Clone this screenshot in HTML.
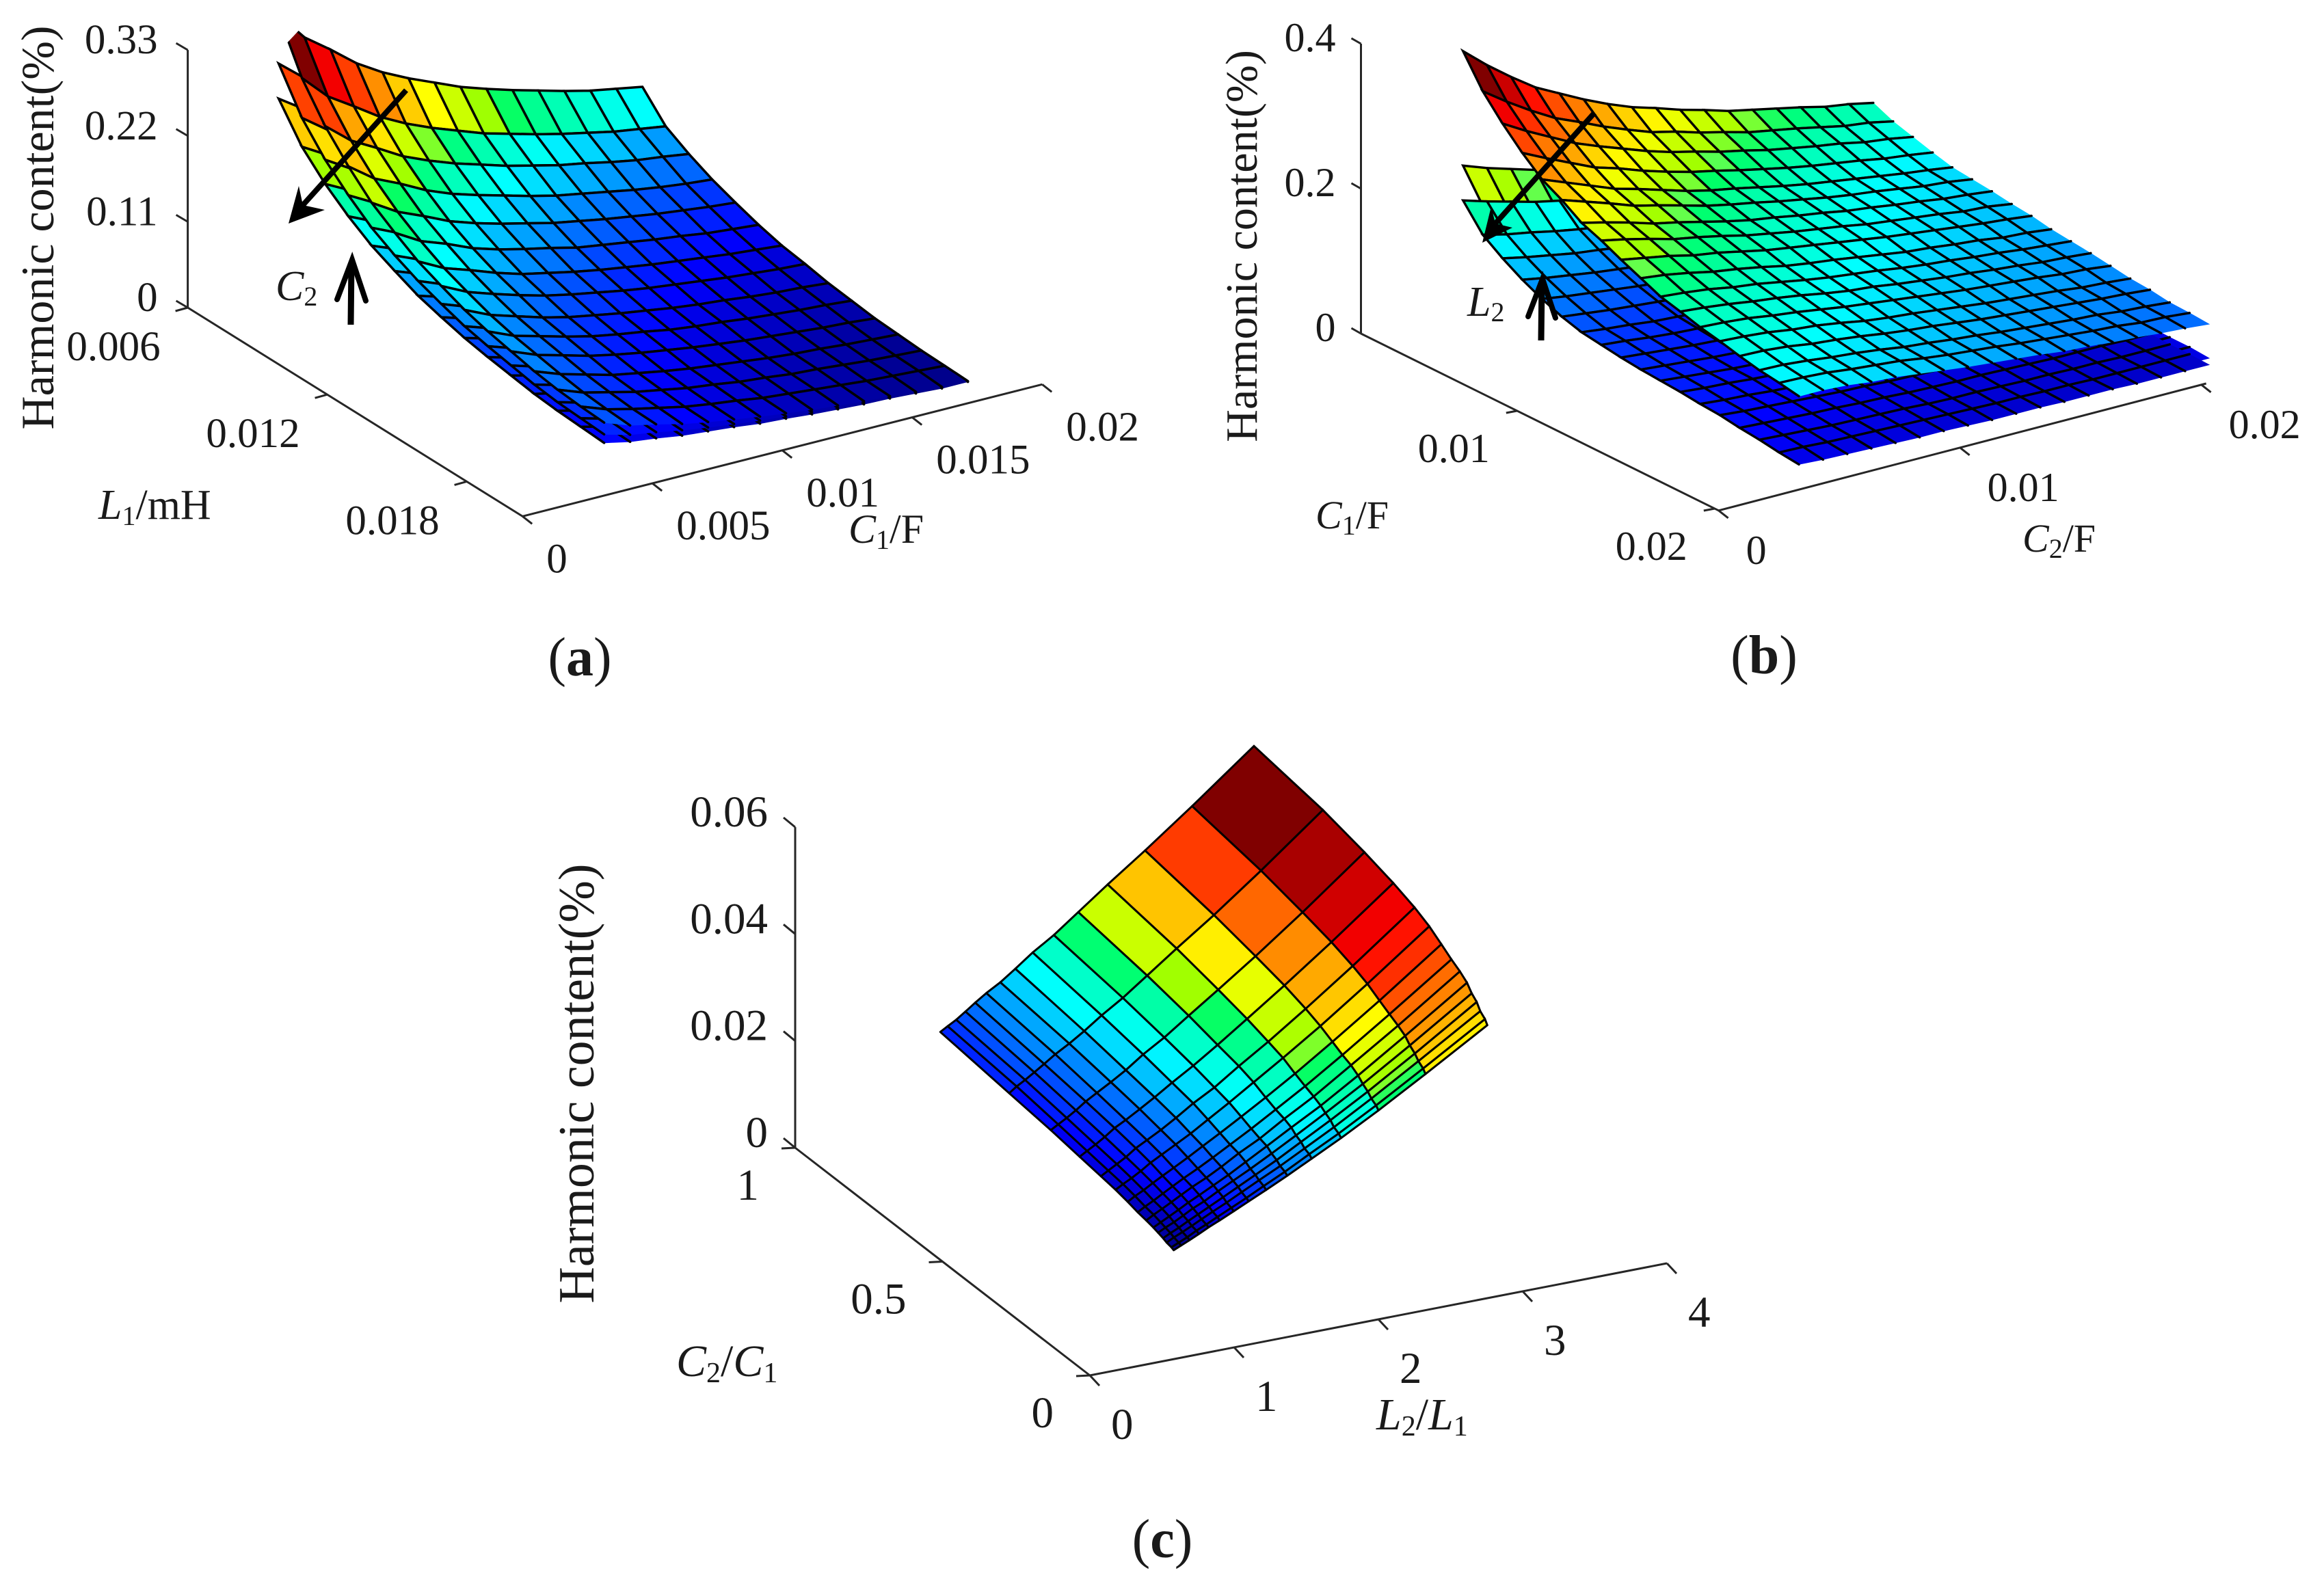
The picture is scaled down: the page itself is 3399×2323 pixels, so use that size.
<!DOCTYPE html>
<html lang="en">
<head>
<meta charset="utf-8">
<title>Harmonic content surfaces</title>
<style>
html,body{margin:0;padding:0;background:#fff;}
svg{display:block;}
text{font-family:"Liberation Serif",serif;fill:#1a1a1a;}
.axlab{font-size:60px;}
</style>
</head>
<body>
<svg id="figure" xmlns="http://www.w3.org/2000/svg" width="3399" height="2323" viewBox="0 0 3399 2323">
<rect x="0" y="0" width="3399" height="2323" fill="#ffffff"/>
<defs>
<clipPath id="clipTopA"><polygon points="380,105 480,-1 1500,-1 1500,800 380,800"/></clipPath>
</defs>

<g id="panelA"></g>
<g id="panelB"></g>
<g id="panelC"></g>

<!-- panel a annotations -->
<text transform="translate(78,333) rotate(-90)" text-anchor="middle" font-size="68">Harmonic content(%)</text>
<text x="144" y="759" font-size="62"><tspan font-style="italic">L</tspan><tspan dy="9" font-size="40">1</tspan><tspan dy="-9">/mH</tspan></text>
<text x="1241" y="794" font-size="60"><tspan font-style="italic">C</tspan><tspan dy="9" font-size="40">1</tspan><tspan dy="-9">/F</tspan></text>
<text x="403" y="439" font-size="62"><tspan font-style="italic">C</tspan><tspan dy="8" font-size="40">2</tspan></text>
<g>
  <line x1="594" y1="132" x2="443" y2="300" stroke="#000" stroke-width="8"/>
  <polygon points="422,327 437,272 443,300 475,307" fill="#000"/>
</g>
<g fill="none" stroke="#000" stroke-linecap="round">
  <line x1="513" y1="475" x2="514" y2="385" stroke-width="9" stroke-linecap="butt"/>
  <polyline points="493,438 515,380 535,440" stroke-width="8"/>
</g>
<text x="848" y="988" text-anchor="middle" font-size="80">(<tspan font-weight="bold">a</tspan>)</text>

<!-- panel b annotations -->
<text transform="translate(1838,360) rotate(-90)" text-anchor="middle" font-size="66">Harmonic content(%)</text>
<text x="1924" y="773" font-size="58"><tspan font-style="italic">C</tspan><tspan dy="9" font-size="40">1</tspan><tspan dy="-9">/F</tspan></text>
<text x="2958" y="807" font-size="58"><tspan font-style="italic">C</tspan><tspan dy="9" font-size="40">2</tspan><tspan dy="-9">/F</tspan></text>
<text x="2146" y="462" font-size="62"><tspan font-style="italic">L</tspan><tspan dy="8" font-size="40">2</tspan></text>
<g>
  <line x1="2332" y1="165" x2="2187" y2="327" stroke="#000" stroke-width="8"/>
  <polygon points="2168,355 2181,302 2187,327 2212,333" fill="#000"/>
</g>
<g fill="none" stroke="#000" stroke-linecap="round">
  <line x1="2254" y1="498" x2="2255" y2="415" stroke-width="9" stroke-linecap="butt"/>
  <polyline points="2235,463 2256,408 2275,465" stroke-width="8"/>
</g>
<text x="2580" y="985" text-anchor="middle" font-size="80">(<tspan font-weight="bold">b</tspan>)</text>

<!-- panel c annotations -->
<text transform="translate(868,1585) rotate(-90)" text-anchor="middle" font-size="74">Harmonic content(%)</text>
<text x="989" y="2013" font-size="66"><tspan font-style="italic">C</tspan><tspan dy="9" font-size="42">2</tspan><tspan dy="-9">/</tspan><tspan font-style="italic">C</tspan><tspan dy="9" font-size="42">1</tspan></text>
<text x="2013" y="2091" font-size="66"><tspan font-style="italic">L</tspan><tspan dy="9" font-size="42">2</tspan><tspan dy="-9">/</tspan><tspan font-style="italic">L</tspan><tspan dy="9" font-size="42">1</tspan></text>
<text x="1700" y="2278" text-anchor="middle" font-size="80">(<tspan font-weight="bold">c</tspan>)</text>
</svg>

<script>
// ---------- Panel (a): axis ticks and grid values ----------
const aZTicks = [0, 110, 220, 330];
const aZTickLabels = ["0", "0.11", "0.22", "0.33"];
const aL1Ticks = [0.006, 0.012, 0.018];
const aL1TickLabels = ["0.006", "0.012", "0.018"];
const aC1Ticks = [0, 0.005, 0.01, 0.015, 0.02];
const aC1TickLabels = ["0", "0.005", "0.01", "0.015", "0.02"];
const aC1Grid = [0.0035,0.0045,0.0055,0.0065,0.0075,0.0085,0.0095,0.0105,0.0115,0.0125,0.0135,0.0145,0.0155,0.0165,0.0175];
const aL1Grid = [0.006,0.007,0.008,0.009,0.010,0.011,0.012,0.013,0.014,0.015,0.016,0.017,0.018,0.019,0.020];
// harmonic content in units of 0.001 %, one row per L1 value
const aSurfaceHigh = [
[345,308,284,258,238,222,208,194,183,173,164,155,147,141,135],
[283,251,230,208,191,177,165,153,144,135,127,120,113,108,103],
[240,213,195,176,162,150,140,130,122,114,108,101,95,91,86],
[207,183,168,151,138,128,119,110,102,96,90,84,79,75,72],
[179,159,145,130,119,110,102,94,88,82,77,72,68,64,61],
[159,140,128,114,104,96,89,81,76,71,66,62,57,54,51],
[141,124,113,101,91,84,77,71,66,61,57,53,49,46,43],
[128,112,101,91,82,75,69,63,58,54,50,46,43,40,38],
[116,101,91,81,73,67,61,56,51,47,44,40,37,35,32],
[107,93,84,75,67,61,56,50,46,43,39,36,33,31,28],
[100,87,78,69,62,56,51,46,42,38,35,32,29,27,24],
[93,81,72,63,57,51,46,42,38,34,31,29,26,24,22],
[88,76,68,60,54,48,44,39,36,32,30,27,24,22,20],
[85,73,65,58,51,46,42,37,34,31,28,25,23,21,19],
[83,71,64,56,50,45,40,36,32,29,26,24,21,19,18]];
const aSurfaceMid = [
[283,256,239,219,205,193,183,172,164,157,150,143,137,133,128],
[232,208,193,177,164,154,145,135,129,122,116,111,106,102,98],
[197,177,164,150,139,131,123,115,109,103,99,93,89,86,82],
[170,152,141,128,119,111,105,97,91,87,82,78,74,71,68],
[147,132,122,111,102,96,90,83,79,74,70,67,64,60,58],
[130,116,108,97,89,84,78,72,68,64,60,57,53,51,48],
[116,103,95,86,78,73,68,63,59,55,52,49,46,43,41],
[105,93,85,77,71,65,61,56,52,49,46,43,40,38,36],
[95,84,76,69,63,58,54,50,46,43,40,37,35,33,30],
[88,77,71,64,58,53,49,44,41,39,36,33,31,29,27],
[82,72,66,59,53,49,45,41,38,34,32,30,27,25,23],
[76,67,60,54,49,44,40,37,34,31,28,27,24,23,21],
[72,63,57,51,46,42,39,35,32,29,27,25,22,21,19],
[70,61,55,49,44,40,37,33,30,28,26,23,22,20,18],
[68,59,54,48,43,39,35,32,29,26,24,22,20,18,17]];
const aSurfaceLow = [
[238,216,204,188,179,171,162,155,150,144,139,135,131,128,126],
[195,176,166,152,143,136,129,122,118,112,108,104,101,98,96],
[166,149,140,128,122,116,109,104,100,95,92,88,85,83,80],
[143,128,121,110,104,99,93,88,84,80,77,73,70,68,67],
[124,111,104,95,89,85,80,75,72,68,65,63,61,58,57],
[110,98,92,83,78,74,69,65,62,59,56,54,51,49,47],
[97,87,81,74,68,65,60,57,54,51,48,46,44,42,40],
[88,78,73,66,62,58,54,50,48,45,43,40,38,36,35],
[80,71,66,59,55,52,48,45,42,39,37,35,33,32,30],
[74,65,60,55,50,47,44,40,38,36,33,31,29,28,26],
[69,61,56,50,47,43,40,37,34,32,30,28,26,25,22],
[64,57,52,46,43,39,36,34,31,28,26,25,23,22,20],
[61,53,49,44,41,37,34,31,30,27,26,23,21,20,19],
[59,51,47,42,38,35,33,30,28,26,24,22,20,19,18],
[57,50,46,41,38,35,31,29,26,24,22,21,19,17,17]];

// ---------- Panel (b): axis ticks and grid values ----------
const bZTicks = [0, 200, 400];
const bZTickLabels = ["0", "0.2", "0.4"];
const bC1Ticks = [0.01, 0.02];
const bC1TickLabels = ["0.01", "0.02"];
const bC2Ticks = [0, 0.01, 0.02];
const bC2TickLabels = ["0", "0.01", "0.02"];
const bC2Grid = [0.003,0.004,0.005,0.006,0.007,0.008,0.009,0.010,0.011,0.012,0.013,0.014,0.015,0.016,0.017,0.018,0.019,0.020];
const bC1Grid = [0.0036,0.0046,0.0056,0.0066,0.0076,0.0086,0.0096,0.0106,0.0116,0.0126,0.0136,0.0146,0.0156,0.0166,0.0176,0.0186,0.0196,0.0206];
const bSurfaceHigh = [
[384,356,331,308,291,274,259,246,236,225,216,206,199,192,185,177,172,165],
[342,319,298,279,265,250,237,225,217,207,199,190,184,178,171,164,160,153],
[311,292,275,258,245,233,221,211,203,194,187,179,173,167,162,155,151,145],
[284,268,253,238,228,216,206,197,190,182,175,168,162,157,152,146,142,137],
[261,248,235,222,213,203,193,185,179,172,165,159,154,149,144,139,135,130],
[246,235,224,212,204,195,186,179,173,166,160,154,149,145,140,135,132,127],
[228,220,211,201,194,186,178,171,166,160,155,149,145,140,136,131,128,124],
[217,210,202,193,187,180,172,166,160,155,150,144,140,136,132,127,125,120],
[204,198,192,184,179,172,165,160,155,150,145,140,136,132,128,124,121,117],
[192,188,182,175,170,164,157,152,148,143,138,133,130,126,123,118,116,112],
[180,177,173,167,163,157,151,146,142,138,133,129,126,122,119,115,112,109],
[173,170,166,161,157,152,146,141,138,133,129,125,122,118,115,111,109,106],
[165,163,160,155,151,146,141,137,133,129,125,121,118,115,112,108,106,102],
[159,157,154,149,146,141,135,131,128,124,120,116,113,110,107,103,101,98],
[152,151,148,143,140,136,131,127,124,120,116,113,110,107,104,101,99,96],
[146,145,142,138,135,131,126,123,119,116,112,109,106,103,101,97,95,92],
[142,141,139,135,132,129,124,120,117,114,110,107,104,101,99,95,94,91],
[137,137,135,131,129,125,121,117,114,111,108,104,102,99,97,94,92,89]];
const bSurfaceMid = [
[226,214,204,194,185,177,170,163,157,152,147,142,138,134,130,127,124,120],
[184,174,166,157,150,143,137,131,127,123,119,114,111,109,106,104,102,100],
[160,151,143,136,131,124,119,114,110,106,104,100,97,96,93,91,90,88],
[140,132,125,119,114,109,105,100,96,93,91,88,86,83,82,81,79,78],
[123,116,111,106,101,97,93,90,87,84,82,79,78,76,74,73,72,70],
[109,104,99,95,91,87,83,81,77,76,73,72,69,68,67,65,64,64],
[99,93,90,84,82,78,76,73,70,69,67,65,64,63,61,60,60,59],
[93,90,84,81,78,74,72,69,67,65,63,61,60,59,58,56,56,55],
[88,84,81,77,74,70,68,65,64,63,60,59,58,56,55,55,54,52],
[84,81,77,73,70,68,65,63,60,59,58,56,55,54,52,52,51,51],
[82,78,74,70,68,67,63,61,59,58,56,55,54,52,51,51,50,50],
[79,76,73,69,67,64,61,59,58,56,55,54,52,51,50,50,49,49],
[76,72,69,65,63,61,59,58,55,54,52,51,50,50,49,49,47,47],
[73,69,67,64,61,59,58,55,54,52,51,50,49,49,47,46,46,46],
[68,65,63,60,59,56,55,52,51,50,50,49,47,46,46,46,45,45],
[64,61,59,56,55,54,52,50,49,49,47,46,46,45,45,44,44,44],
[59,58,55,54,52,51,50,49,47,46,46,45,45,44,44,44,44,44],
[55,52,51,50,49,47,47,46,45,45,45,44,44,44,42,42,42,42]];
const bSurfaceLow = [
[178,168,159,150,143,136,130,124,119,115,111,107,104,101,98,96,94,92],
[144,136,130,123,117,112,107,102,99,96,93,89,87,85,83,81,80,78],
[125,118,112,106,102,97,93,89,86,83,81,78,76,75,73,71,70,69],
[109,103,98,93,89,85,82,78,75,73,71,69,67,65,64,63,62,61],
[96,91,87,83,79,76,73,70,68,66,64,62,61,59,58,57,56,55],
[85,81,77,74,71,68,65,63,60,59,57,56,54,53,52,51,50,50],
[77,73,70,66,64,61,59,57,55,54,52,51,50,49,48,47,47,46],
[73,70,66,63,61,58,56,54,52,51,49,48,47,46,45,44,44,43],
[69,66,63,60,58,55,53,51,50,49,47,46,45,44,43,43,42,41],
[66,63,60,57,55,53,51,49,47,46,45,44,43,42,41,41,40,40],
[64,61,58,55,53,52,49,48,46,45,44,43,42,41,40,40,39,39],
[62,59,57,54,52,50,48,46,45,44,43,42,41,40,39,39,38,38],
[59,56,54,51,49,48,46,45,43,42,41,40,39,39,38,38,37,37],
[57,54,52,50,48,46,45,43,42,41,40,39,38,38,37,36,36,36],
[53,51,49,47,46,44,43,41,40,39,39,38,37,36,36,36,35,35],
[50,48,46,44,43,42,41,39,38,38,37,36,36,35,35,34,34,34],
[46,45,43,42,41,40,39,38,37,36,36,35,35,34,34,34,34,34],
[43,41,40,39,38,37,37,36,35,35,35,34,34,34,33,33,33,33]];

// ---------- Panel (c): axis ticks and grid values ----------
const cZTicks = [0, 20, 40, 60];
const cZTickLabels = ["0", "0.02", "0.04", "0.06"];
const cCRatioTicks = [1, 0.5, 0];
const cCRatioTickLabels = ["1", "0.5", "0"];
const cLRatioTicks = [0, 1, 2, 3, 4];
const cLRatioTickLabels = ["0", "1", "2", "3", "4"];
const cCRatioGrid = [1,0.766,0.625,0.527,0.455,0.405,0.364,0.330,0.301,0.277,0.261,0.244,0.232,0.216,0.208];
const cLRatioGrid = [3.18,2.751,2.425,2.166,1.962,1.793,1.646,1.526,1.422,1.325,1.248,1.18,1.116,1.057,1.006];
const cSurface = [
[58.5,56.5,54.6,53.0,51.5,50.1,48.5,47.1,46.1,45.0,43.7,42.8,41.6,40.8,40.0],
[49.5,47.4,45.6,44.2,42.8,41.6,40.2,39.1,38.2,37.3,36.2,35.4,34.5,33.8,33.1],
[42.9,40.8,39.1,37.8,36.5,35.4,34.2,33.2,32.5,31.6,30.7,30.0,29.2,28.6,28.0],
[37.9,35.9,34.2,32.9,31.7,30.8,29.6,28.7,28.0,27.3,26.6,26.0,25.2,24.7,24.2],
[33.8,31.9,30.4,29.1,28.2,27.3,26.2,25.4,24.9,24.3,23.5,23.0,22.3,21.9,21.4],
[30.4,28.6,27.2,26.1,25.1,24.4,23.5,22.7,22.1,21.7,21.0,20.5,19.9,19.5,19.1],
[27.9,26.1,24.8,23.7,22.9,22.0,21.2,20.5,20.1,19.5,18.9,18.5,18.0,17.6,17.2],
[25.5,23.8,22.5,21.6,20.8,20.0,19.4,18.7,18.2,17.7,17.3,16.9,16.4,16.0,15.7],
[23.5,22.0,20.8,19.9,19.1,18.5,17.8,17.2,16.7,16.3,15.9,15.5,15.0,14.7,14.4],
[22.0,20.5,19.3,18.4,17.7,17.1,16.4,15.9,15.5,15.0,14.5,14.2,13.8,13.5,13.2],
[20.6,19.1,18.1,17.3,16.6,16.0,15.3,14.8,14.4,14.0,13.6,13.2,12.8,12.5,12.3],
[19.3,17.9,16.8,16.0,15.3,14.8,14.3,13.8,13.4,13.0,12.6,12.3,11.9,11.7,11.4],
[18.1,16.8,15.7,14.9,14.3,13.8,13.3,12.8,12.5,12.1,11.7,11.4,11.1,10.8,10.6],
[17.2,15.9,14.8,14.0,13.4,13.0,12.5,12.0,11.7,11.3,11.0,10.7,10.4,10.1,9.9],
[16.4,14.9,14.0,13.2,12.6,12.2,11.7,11.2,10.9,10.6,10.3,10.0,9.7,9.5,9.3]];

// ---------- Projections (orthographic view of each 3-D axes box) ----------
function projectA(c1, l1, z) {
  return [274.6 + 38000 * c1 + 34000 * (l1 - 0.006),
          450 - 9650 * c1 + 21200 * (l1 - 0.006) - 1.142 * z];
}
function projectB(c2, c1, z) {
  return [1990.5 + 35300 * c2 + 28900 * (c1 - 0.0021),
          488 - 9200 * c2 + 14300 * (c1 - 0.0021) - 1.06 * z];
}
function projectC(cRatio, lRatio, z) {
  return [1163 + 211 * lRatio + 431 * (1 - cRatio),
          1679 - 41 * lRatio + 333 * (1 - cRatio) - 7.817 * z];
}

const SVG_NS = "http://www.w3.org/2000/svg";

// jet colormap; the green band follows the hues seen in the reference figure
function jetColor(t) {
  t = Math.max(0, Math.min(1, t));
  if (t > 0.375 && t < 0.625) {
    const band = [
      [0.375, 0, 255, 255], [0.44, 0, 255, 191], [0.49, 0, 255, 128], [0.505, 0, 255, 102],
      [0.522, 96, 255, 80], [0.54, 160, 255, 0], [0.58, 200, 255, 0], [0.625, 255, 255, 0]
    ];
    for (let k = 0; k < band.length - 1; k++) {
      if (t <= band[k + 1][0]) {
        const f = (t - band[k][0]) / (band[k + 1][0] - band[k][0]);
        const mix = function (n) { return Math.round(band[k][n] + f * (band[k + 1][n] - band[k][n])); };
        return "rgb(" + mix(1) + "," + mix(2) + "," + mix(3) + ")";
      }
    }
  }
  const clamp = function (v) { return Math.max(0, Math.min(1, v)); };
  const r = clamp(1.5 - Math.abs(4 * t - 3));
  const g = clamp(1.5 - Math.abs(4 * t - 2));
  const b = clamp(1.5 - Math.abs(4 * t - 1));
  return "rgb(" + Math.round(r * 255) + "," + Math.round(g * 255) + "," + Math.round(b * 255) + ")";
}

function matrixRange(list) {
  let lo = Infinity, hi = -Infinity;
  list.forEach(function (m) {
    m.forEach(function (row) {
      row.forEach(function (v) { lo = Math.min(lo, v); hi = Math.max(hi, v); });
    });
  });
  return [lo, hi];
}

function fmt(p) { return p[0].toFixed(1) + "," + p[1].toFixed(1); }

function drawSurface(parent, name, zMatrix, colGrid, rowGrid, project, range, opts) {
  const group = document.createElementNS(SVG_NS, "g");
  
  
  if (opts.clip) group.setAttribute("clip-path", opts.clip);
  parent.appendChild(group);
  const floor = opts.colorFloor || 0;
  const nr = rowGrid.length, nc = colGrid.length;
  for (let j = 0; j < nr - 1; j++) {
    for (let i = 0; i < nc - 1; i++) {
      const a = project(colGrid[i], rowGrid[j], zMatrix[j][i]);
      const b = project(colGrid[i + 1], rowGrid[j], zMatrix[j][i + 1]);
      const c = project(colGrid[i + 1], rowGrid[j + 1], zMatrix[j + 1][i + 1]);
      const d = project(colGrid[i], rowGrid[j + 1], zMatrix[j + 1][i]);
      const t = floor + (1 - floor) * (zMatrix[j][i] - range[0]) / (range[1] - range[0]);
      const col = jetColor(t);
      const cell = document.createElementNS(SVG_NS, "polygon");
      
      
      cell.setAttribute("points", fmt(a) + " " + fmt(b) + " " + fmt(c) + " " + fmt(d));
      cell.setAttribute("fill", col);
      cell.setAttribute("stroke", col);
      cell.setAttribute("stroke-width", "0.7");
      group.appendChild(cell);
      let path = "M" + fmt(d) + "L" + fmt(a) + "L" + fmt(b);
      if (i < nc - 2 || opts.rightEdge) path += "M" + fmt(b) + "L" + fmt(c);
      if (j < nr - 2 || opts.bottomEdge) path += "M" + fmt(d) + "L" + fmt(c);
      const edge = document.createElementNS(SVG_NS, "path");
      
      
      edge.setAttribute("d", path);
      edge.setAttribute("fill", "none");
      edge.setAttribute("stroke", "#000");
      edge.setAttribute("stroke-width", opts.lineWidth);
      edge.setAttribute("stroke-linecap", "round");
      group.appendChild(edge);
    }
  }
}

function drawAxis(parent, name, values, labels, pointFn, endA, endB, tick, label, fontSize) {
  const group = document.createElementNS(SVG_NS, "g");
  
  
  parent.appendChild(group);
  const p0 = pointFn(endA), p1 = pointFn(endB);
  const axisLine = document.createElementNS(SVG_NS, "line");
  
  
  axisLine.setAttribute("x1", p0[0]);
  axisLine.setAttribute("y1", p0[1]);
  axisLine.setAttribute("x2", p1[0]);
  axisLine.setAttribute("y2", p1[1]);
  axisLine.setAttribute("stroke", "#262626");
  axisLine.setAttribute("stroke-width", "3");
  group.appendChild(axisLine);
  values.forEach(function (v, k) {
    const p = pointFn(v);
    const tk = document.createElementNS(SVG_NS, "line");
    
    
    tk.setAttribute("x1", p[0]);
    tk.setAttribute("y1", p[1]);
    tk.setAttribute("x2", p[0] + tick[0]);
    tk.setAttribute("y2", p[1] + tick[1]);
    tk.setAttribute("stroke", "#262626");
    tk.setAttribute("stroke-width", "3");
    group.appendChild(tk);
    const tx = document.createElementNS(SVG_NS, "text");
    
    
    tx.setAttribute("x", p[0] + label[0]);
    tx.setAttribute("y", p[1] + label[1]);
    tx.setAttribute("text-anchor", label[2]);
    tx.setAttribute("font-size", fontSize);
    tx.textContent = labels[k];
    group.appendChild(tx);
  });
}

// ---------- Panel (a) ----------
const panelA = document.getElementById("panelA");
const rangeA = matrixRange([aSurfaceHigh, aSurfaceMid, aSurfaceLow]);
drawAxis(panelA, "panel-a-z-axis", aZTicks, aZTickLabels, function (z) { return projectA(0, 0.006, z); }, 0, 330, [-17, -10], [-44, 5, "end"], 61);
drawAxis(panelA, "panel-a-l1-axis", aL1Ticks, aL1TickLabels, function (l) { return projectA(0, l, 0); }, 0.006, 0.0204, [-18, 5], [-40, 77, "end"], 61);
drawAxis(panelA, "panel-a-c1-axis", aC1Ticks, aC1TickLabels, function (c) { return projectA(c, 0.0204, 0); }, 0, 0.02, [14, 11], [35, 82, "start"], 61);
drawSurface(panelA, "panel-a-surface-low", aSurfaceLow, aC1Grid, aL1Grid, projectA, rangeA, { lineWidth: 3.5, rightEdge: true, bottomEdge: false });
drawSurface(panelA, "panel-a-surface-mid", aSurfaceMid, aC1Grid, aL1Grid, projectA, rangeA, { lineWidth: 3.5, rightEdge: true, bottomEdge: false });
drawSurface(panelA, "panel-a-surface-high", aSurfaceHigh, aC1Grid, aL1Grid, projectA, rangeA, { lineWidth: 3.5, rightEdge: true, bottomEdge: false, clip: "url(#clipTopA)" });

// ---------- Panel (b) ----------
const panelB = document.getElementById("panelB");
const rangeB = matrixRange([bSurfaceHigh, bSurfaceMid, bSurfaceLow]);
drawAxis(panelB, "panel-b-z-axis", bZTicks, bZTickLabels, function (z) { return projectB(0, 0.0021, z); }, 0, 400, [-14, -8], [-37, 11, "end"], 60);
drawAxis(panelB, "panel-b-c1-axis", bC1Ticks, bC1TickLabels, function (c) { return projectB(0, c, 0); }, 0.0021, 0.0202, [-16, 3], [-40, 75, "end"], 60);
drawAxis(panelB, "panel-b-c2-axis", bC2Ticks, bC2TickLabels, function (c) { return projectB(c, 0.0202, 0); }, 0, 0.0202, [14, 11], [40, 78, "start"], 60);
drawSurface(panelB, "panel-b-surface-mid", bSurfaceMid, bC2Grid, bC1Grid, projectB, rangeB, { lineWidth: 3.4, rightEdge: false, bottomEdge: false, colorFloor: 0.07 });
drawSurface(panelB, "panel-b-surface-low", bSurfaceLow, bC2Grid, bC1Grid, projectB, rangeB, { lineWidth: 3.4, rightEdge: false, bottomEdge: false, colorFloor: 0.07 });
drawSurface(panelB, "panel-b-surface-high", bSurfaceHigh, bC2Grid, bC1Grid, projectB, rangeB, { lineWidth: 3.4, rightEdge: false, bottomEdge: false, colorFloor: 0.07 });

// ---------- Panel (c) ----------
const panelC = document.getElementById("panelC");
const rangeC = matrixRange([cSurface]);
drawAxis(panelC, "panel-c-z-axis", cZTicks, cZTickLabels, function (z) { return projectC(1, 0, z); }, 0, 60, [-17, -14], [-40, -1, "end"], 65);
drawAxis(panelC, "panel-c-c-ratio-axis", cCRatioTicks, cCRatioTickLabels, function (c) { return projectC(c, 0, 0); }, 1, 0, [-20, 1], [-53, 76, "end"], 65);
drawAxis(panelC, "panel-c-l-ratio-axis", cLRatioTicks, cLRatioTickLabels, function (l) { return projectC(0, l, 0); }, 0, 4, [14, 15], [31, 93, "start"], 65);
drawSurface(panelC, "panel-c-surface", cSurface, cCRatioGrid, cLRatioGrid, function (c, l, z) { return projectC(c, l, z); }, rangeC, { lineWidth: 3, rightEdge: true, bottomEdge: true });
</script>
</body>
</html>
